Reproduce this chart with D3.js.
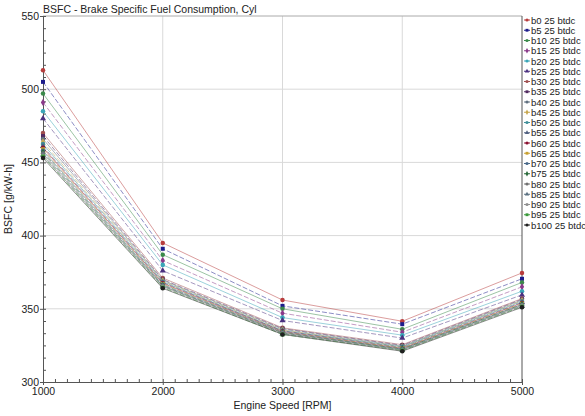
<!DOCTYPE html>
<html>
<head>
<meta charset="utf-8">
<script src="https://cdn.jsdelivr.net/npm/d3@7"></script>
<style>
  body { margin: 0; background: #fff; }
  text { font-family: "Liberation Sans", Arial, sans-serif; fill: #222; }
  .axis path { stroke: #555; }
  .axis line { stroke: #555; }
  .grid line { stroke: #d9d9d9; }
</style>
</head>
<body>
<div id="chart-container"></div>
<script>
// engine speeds (x) and one BSFC series per injection setting
const speeds = [1000, 2000, 3000, 4000, 5000]
const seriesNames = ['b0 25 btdc','b5 25 btdc','b10 25 btdc','b15 25 btdc','b20 25 btdc','b25 25 btdc',
  'b30 25 btdc','b35 25 btdc','b40 25 btdc','b45 25 btdc','b50 25 btdc','b55 25 btdc','b60 25 btdc',
  'b65 25 btdc','b70 25 btdc','b75 25 btdc','b80 25 btdc','b85 25 btdc','b90 25 btdc','b95 25 btdc','b100 25 btdc']
const bsfc = [
  [513, 395, 356, 341.5, 374.5],
  [505, 391, 352, 339.5, 370.5],
  [497, 387, 350, 336, 368],
  [491, 383, 347, 334, 365],
  [485, 380, 344, 332, 362],
  [480, 376, 342, 330, 359.5],
  [470, 371, 337, 325.5, 357],
  [468, 370, 336.5, 325, 356.5],
  [466, 369.5, 336, 324.5, 356],
  [464, 369, 335.5, 324, 355.5],
  [462.5, 368.5, 335, 324, 355],
  [461, 368, 335, 323.5, 354.5],
  [460, 367.5, 334.5, 323, 354],
  [459, 367, 334, 323, 353.5],
  [458, 366.5, 334, 322.5, 353],
  [457, 366, 333.5, 322.5, 353],
  [456, 365.5, 333.5, 322, 352.5],
  [455, 365.5, 333, 322, 352],
  [454.5, 365, 333, 321.5, 352],
  [454, 364.5, 332.5, 321.5, 351.5],
  [453, 364, 332.5, 321, 351]
]
const colors = ['#b83c3c','#1c1c8c','#3a8a4a','#8a3a8a','#3aa6b8','#4a3080',
  '#a05050','#502a60','#607080','#c8a850','#40909a','#506080','#8a1030',
  '#c8a030','#4a6a8a','#2a6a3a','#707070','#5a7080','#909090','#3a9a3a','#202020']
const symbols = [d3.symbolCircle, d3.symbolSquare, d3.symbolCircle, d3.symbolDiamond, d3.symbolCircle, d3.symbolTriangle]
const yTicks = [300, 350, 400, 450, 500, 550]
const xTicks = [1000, 2000, 3000, 4000, 5000]

const margin = {top: 16, right: 63, bottom: 34, left: 43}
const width = 585 - margin.left - margin.right
const height = 416 - margin.top - margin.bottom

const root = d3.select('#chart-container')
  .append('svg')
  .attr('width', 585)
  .attr('height', 416)

const svg = root.append('g')
  .attr('transform', `translate(${margin.left},${margin.top})`)

const x = d3.scaleLinear().domain([1000, 5000]).range([0, width])
const y = d3.scaleLinear().domain([300, 550]).range([height, 0])

// grid
svg.append('g').attr('class', 'grid')
  .selectAll('line.v').data(xTicks.slice(1, -1)).join('line')
  .attr('x1', d => x(d)).attr('x2', d => x(d)).attr('y1', 0).attr('y2', height)
svg.append('g').attr('class', 'grid')
  .selectAll('line.h').data(yTicks.slice(1, -1)).join('line')
  .attr('x1', 0).attr('x2', width).attr('y1', d => y(d)).attr('y2', d => y(d))

// frame top/right
svg.append('line').attr('x1', 0).attr('x2', width).attr('y1', 0).attr('y2', 0)
  .attr('stroke', '#aaa')
svg.append('line').attr('x1', width).attr('x2', width).attr('y1', 0).attr('y2', height)
  .attr('stroke', '#555')

// minor ticks
const xMinor = d3.range(1000, 5001, 100)
const yMinor = d3.range(0, 31).map(i => 300 + i * 50 / 6)
svg.append('g').attr('class', 'axis')
  .attr('transform', `translate(0,${height})`)
  .call(d3.axisBottom(x).tickValues(xMinor).tickSizeInner(-3).tickSizeOuter(0).tickFormat(''))
  .call(g => g.select('.domain').remove())
svg.append('g').attr('class', 'axis')
  .call(d3.axisLeft(y).tickValues(yMinor).tickSizeInner(-3).tickSizeOuter(0).tickFormat(''))
  .call(g => g.select('.domain').remove())

// main axes
svg.append('g').attr('class', 'axis')
  .attr('transform', `translate(0,${height})`)
  .call(d3.axisBottom(x).tickValues(xTicks).tickSizeInner(3).tickSizeOuter(0).tickPadding(3).tickFormat(d3.format('d')))
  .call(g => g.selectAll('text').style('font-size', '10.5px'))
svg.append('g').attr('class', 'axis')
  .call(d3.axisLeft(y).tickValues(yTicks).tickSizeInner(3).tickSizeOuter(0).tickPadding(1).tickFormat(d3.format('d')))
  .call(g => g.selectAll('text').style('font-size', '10.5px'))

// series
const line = d3.line().x((d, i) => x(speeds[i])).y(d => y(d))
bsfc.forEach((vals, s) => {
  svg.append('path')
    .datum(vals)
    .attr('d', line)
    .attr('fill', 'none')
    .attr('stroke', colors[s])
    .attr('stroke-opacity', 0.5)
    .attr('stroke-width', 1)
    .attr('stroke-dasharray', s % 2 ? '5,2' : null)
  svg.append('g').selectAll('path').data(vals).join('path')
    .attr('transform', (d, i) => `translate(${x(speeds[i])},${y(d)})`)
    .attr('d', d3.symbol().type(symbols[s % symbols.length]).size(16))
    .attr('fill', colors[s])
})

// title and axis labels
root.append('text').attr('x', 43).attr('y', 13)
  .style('font-size', '10.5px').text('BSFC - Brake Specific Fuel Consumption, Cyl')
root.append('text').attr('x', margin.left + width / 2).attr('y', 409)
  .attr('text-anchor', 'middle').style('font-size', '10.5px').text('Engine Speed [RPM]')
root.append('text')
  .attr('transform', `translate(12,${margin.top + height / 2}) rotate(-90)`)
  .attr('text-anchor', 'middle').style('font-size', '10.5px').text('BSFC [g/kW-h]')

// legend
const legend = root.append('g').attr('transform', 'translate(524,20)')
seriesNames.forEach((name, s) => {
  const g = legend.append('g').attr('transform', `translate(0,${s * 10.25})`)
  g.append('line').attr('x1', 0).attr('x2', 6).attr('y1', 0).attr('y2', 0)
    .attr('stroke', colors[s]).attr('stroke-width', 1)
  g.append('path').attr('transform', 'translate(3,0)')
    .attr('d', d3.symbol().type(symbols[s % symbols.length]).size(8))
    .attr('fill', colors[s])
  g.append('text').attr('x', 7).attr('y', 3.5)
    .style('font-size', '9.5px').text(name)
})
</script>
</body>
</html>
